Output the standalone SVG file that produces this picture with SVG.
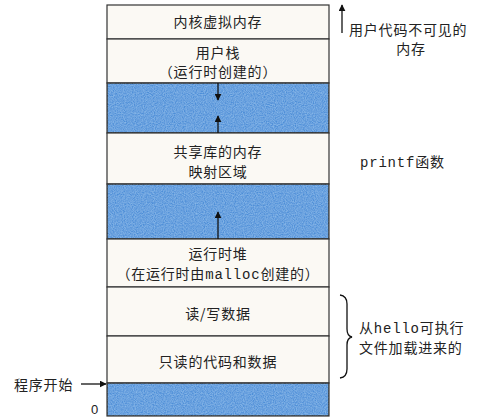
<svg xmlns="http://www.w3.org/2000/svg" width="479" height="417" viewBox="0 0 479 417">
<style>
.t{font-family:"Noto Sans CJK SC","Liberation Sans",sans-serif;font-size:14px;fill:#222;letter-spacing:0.8px}
.m{font-family:"Liberation Mono","Noto Sans CJK SC",monospace;}
.c{text-anchor:middle}
.cream{fill:#fbf9f4;stroke:#333;stroke-width:1.2}
.blue{fill:#4e8fd8;stroke:#333;stroke-width:1.2}
.ln{stroke:#111;stroke-width:1.3;fill:none}
</style>
<defs>
<filter id="nz" x="0" y="0" width="100%" height="100%">
<feTurbulence type="fractalNoise" baseFrequency="0.9" numOctaves="2" seed="3" result="n"/>
<feColorMatrix in="n" type="matrix" values="0 0 0 0 0.36  0 0 0 0 0.62  0 0 0 0 0.90  0 0 0 0.9 -0.2" result="c"/>
<feComposite in="c" in2="SourceGraphic" operator="atop"/>
</filter>
<marker id="ah" viewBox="0 0 10 10" refX="9" refY="5" markerWidth="7" markerHeight="7" orient="auto" markerUnits="userSpaceOnUse"><path d="M0,0 L10,5 L0,10 z" fill="#111"/></marker>
</defs>
<rect width="479" height="417" fill="#fff"/>
<g id="kernel"><rect class="cream" x="107" y="5" width="222" height="34"/><text class="t c" x="218" y="27">内核虚拟内存</text></g>
<g id="stack"><rect class="cream" x="107" y="39" width="222" height="44"/><text class="t c" x="218" y="58">用户栈</text><text class="t c" x="218" y="77">（运行时创建的）</text></g>
<g id="gap1"><rect class="blue" x="107" y="83" width="222" height="50" filter="url(#nz)"/><rect x="107" y="83" width="222" height="50" fill="none" stroke="#333" stroke-width="1.2"/></g>
<g id="shared"><rect class="cream" x="107" y="133" width="222" height="51"/><text class="t c" x="218" y="157">共享库的内存</text><text class="t c" x="218" y="177">映射区域</text></g>
<g id="gap2"><rect class="blue" x="107" y="184" width="222" height="55" filter="url(#nz)"/><rect x="107" y="184" width="222" height="55" fill="none" stroke="#333" stroke-width="1.2"/></g>
<g id="heap"><rect class="cream" x="107" y="239" width="222" height="48"/><text class="t c" x="218" y="259">运行时堆</text><text class="t c" x="218" y="279">（在运行时由<tspan class="m">malloc</tspan>创建的）</text></g>
<g id="rw"><rect class="cream" x="107" y="287" width="222" height="49"/><text class="t c" x="218" y="319">读/写数据</text></g>
<g id="ro"><rect class="cream" x="107" y="336" width="222" height="47"/><text class="t c" x="218" y="367">只读的代码和数据</text></g>
<g id="bottom"><rect class="blue" x="107" y="383" width="222" height="33" filter="url(#nz)"/><rect x="107" y="383" width="222" height="33" fill="none" stroke="#333" stroke-width="1.2"/></g>
<g id="connectors">
<line class="ln" x1="218" y1="83" x2="218" y2="100" marker-end="url(#ah)"/>
<line class="ln" x1="218" y1="133" x2="218" y2="116" marker-end="url(#ah)"/>
<line class="ln" x1="218" y1="239" x2="218" y2="212" marker-end="url(#ah)"/>
<line class="ln" x1="342" y1="33" x2="342" y2="5" marker-end="url(#ah)"/>
<line class="ln" x1="81" y1="384" x2="106" y2="384" marker-end="url(#ah)"/>
<path class="ln" d="M340,295 Q347,296 347,304 L347,329 Q347,336 352,337 Q347,338 347,345 L347,369 Q347,377 340,378"/>
</g>
<g id="labels">
<text class="t" x="349" y="35">用户代码不可见的</text>
<text class="t c" x="411" y="54">内存</text>
<text class="t" x="360" y="167"><tspan class="m">printf</tspan>函数</text>
<text class="t" x="359" y="333">从<tspan class="m">hello</tspan>可执行</text>
<text class="t" x="359" y="353">文件加载进来的</text>
<text class="t" x="14" y="390">程序开始</text>
<text class="t" x="91" y="414" style="font-family:'Liberation Sans',sans-serif;font-size:13px">0</text>
</g>
</svg>
